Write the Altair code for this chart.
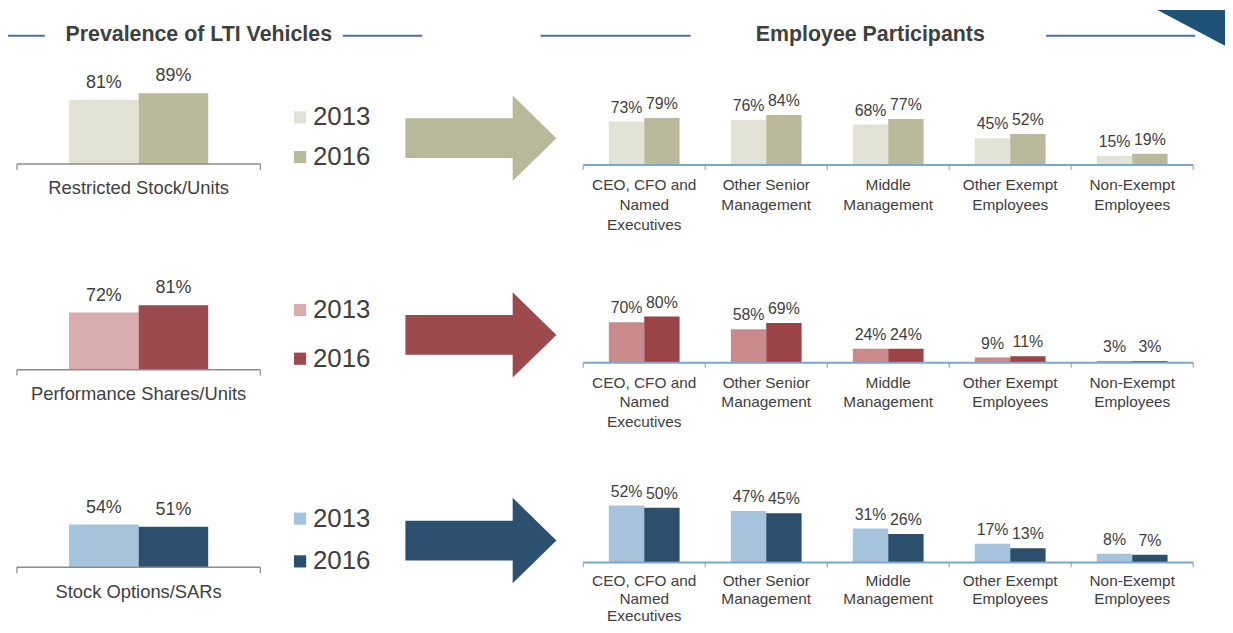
import altair as alt
import pandas as pd

# ---------------- data ----------------
vehicles = ["Restricted Stock/Units", "Performance Shares/Units", "Stock Options/SARs"]
years = ["2013", "2016"]
groups = ["CEO, CFO and\nNamed\nExecutives", "Other Senior\nManagement", "Middle\nManagement",
          "Other Exempt\nEmployees", "Non-Exempt\nEmployees"]
prevalence_2013 = [81, 72, 54]
prevalence_2016 = [89, 81, 51]
rsu_2013 = [73, 76, 68, 45, 15]
rsu_2016 = [79, 84, 77, 52, 19]
psu_2013 = [70, 58, 24, 9, 3]
psu_2016 = [80, 69, 24, 11, 3]
opt_2013 = [52, 47, 31, 17, 8]
opt_2016 = [50, 45, 26, 13, 7]
section_titles = ["Prevalence of LTI Vehicles", "Employee Participants"]

part_2013 = [rsu_2013, psu_2013, opt_2013]
part_2016 = [rsu_2016, psu_2016, opt_2016]

# ---------------- style / layout ----------------
FONT = "Liberation Sans"
TXT = "#404040"
W, H = 1225, 617
LEFT_RANGE = [9, 254]
RIGHT_RANGE = [579, 1193]
ARROW = "M -1 -0.263 L 0.421 -0.263 L 0.421 -0.566 L 1 0 L 0.421 0.566 L 0.421 0.263 L -1 0.263 Z"
TRIANGLE = "M -1 -0.53 L 1 -0.53 L 1 0.53 Z"

rows = [
    dict(lb=155, lab_y=179, rb=156, rh=60, legY=95, rp=14, ay=129, lh=20, ly0=13,
         lc=["#e2e2d5", "#bab99c"], rc=["#e2e2d5", "#bab99c"], arrow="#b8b89a"),
    dict(lb=362, lab_y=387, rb=355, rh=58, legY=289, rp=23, ay=327, lh=20, ly0=13,
         lc=["#d8acac", "#9b4a4d"], rc=["#c98a8b", "#9b4448"], arrow="#9c4a4e"),
    dict(lb=561, lab_y=586, rb=556, rh=110, legY=499, rp=17, ay=534, lh=18, ly0=11.5,
         lc=["#a6c4dd", "#2c4f6d"], rc=["#a6c4dd", "#2c4f6d"], arrow="#2d5070"),
]

layers = []

for i, r in enumerate(rows):
    # ---- left: prevalence ----
    vals = [prevalence_2013[i], prevalence_2016[i]]
    ldf = pd.DataFrame({"year": years, "value": vals, "label": [f"{v}%" for v in vals]})
    lx = alt.X("year:N", scale=alt.Scale(type="band", domain=years, range=LEFT_RANGE,
                                         paddingInner=0, paddingOuter=0.75), axis=None)
    ly = alt.Y("value:Q", scale=alt.Scale(domain=[0, 100], range=[r["lb"], r["lb"] - 80]), axis=None)
    layers.append(
        alt.Chart(ldf).mark_bar().encode(
            x=lx, y=ly,
            color=alt.Color("year:N", scale=alt.Scale(domain=years, range=r["lc"]),
                            legend=alt.Legend(orient="none", legendX=281, legendY=r["legY"],
                                              title=None, symbolType="square", symbolSize=150,
                                              symbolStrokeWidth=0, symbolOpacity=1,
                                              labelFontSize=26, labelFont=FONT, labelColor=TXT,
                                              labelOffset=0, rowPadding=r["rp"], padding=0)),
        )
    )
    layers.append(
        alt.Chart(ldf).mark_text(font=FONT, fontSize=18, color=TXT, dy=-12, baseline="alphabetic").encode(
            x=lx, y=ly, text="label:N")
    )
    # left axis line + end ticks
    layers.append(
        alt.Chart(pd.DataFrame({"k": [0]})).mark_rule(color="#8c8c8c", strokeWidth=1.5).encode(
            x=alt.value(LEFT_RANGE[0]), x2=alt.value(LEFT_RANGE[1]), y=alt.value(r["lb"]))
    )
    layers.append(
        alt.Chart(pd.DataFrame({"k": [0, 1]})).mark_rule(color="#8c8c8c", strokeWidth=1.2).encode(
            x=alt.X("k:Q", scale=alt.Scale(domain=[0, 1], range=LEFT_RANGE), axis=None),
            y=alt.value(r["lb"]), y2=alt.value(r["lb"] + 6))
    )
    layers.append(
        alt.Chart(pd.DataFrame({"t": [vehicles[i]]})).mark_text(
            font=FONT, fontSize=18.5, color=TXT, baseline="middle").encode(
            text="t:N", x=alt.value(sum(LEFT_RANGE) / 2), y=alt.value(r["lab_y"]))
    )

    # ---- arrow ----
    layers.append(
        alt.Chart(pd.DataFrame({"k": [0]})).mark_point(
            shape=ARROW, size=23104, filled=True, opacity=1, color=r["arrow"], strokeWidth=0).encode(
            x=alt.value(476), y=alt.value(r["ay"]))
    )

    # ---- right: employee participants ----
    recs = []
    for g, a, b in zip(groups, part_2013[i], part_2016[i]):
        recs.append({"group": g, "year": "2013", "value": a, "label": f"{a}%"})
        recs.append({"group": g, "year": "2016", "value": b, "label": f"{b}%"})
    rdf = pd.DataFrame(recs)
    rx = alt.X("group:N", scale=alt.Scale(type="band", domain=groups, range=RIGHT_RANGE,
                                          paddingInner=0.42, paddingOuter=0.21), axis=None)
    rxo = alt.XOffset("year:N", scale=alt.Scale(type="band", domain=years, paddingInner=0, paddingOuter=0))
    ry = alt.Y("value:Q", scale=alt.Scale(domain=[0, 100], range=[r["rb"], r["rb"] - r["rh"]]), axis=None)
    layers.append(
        alt.Chart(rdf).mark_bar().encode(
            x=rx, xOffset=rxo, y=ry,
            color=alt.Color("year:N", scale=alt.Scale(domain=years, range=r["rc"]), legend=None))
    )
    layers.append(
        alt.Chart(rdf).mark_text(font=FONT, fontSize=16, color=TXT, dy=-9, baseline="alphabetic").encode(
            x=rx, xOffset=rxo, y=ry, text="label:N")
    )
    layers.append(
        alt.Chart(pd.DataFrame({"k": [0]})).mark_rule(color="#7aa6cf", strokeWidth=2).encode(
            x=alt.value(RIGHT_RANGE[0]), x2=alt.value(RIGHT_RANGE[1]), y=alt.value(r["rb"]))
    )
    layers.append(
        alt.Chart(pd.DataFrame({"k": list(range(len(groups) + 1))})).mark_rule(
            color="#8a9bb0", strokeWidth=1).encode(
            x=alt.X("k:Q", scale=alt.Scale(domain=[0, len(groups)], range=RIGHT_RANGE), axis=None),
            y=alt.value(r["rb"]), y2=alt.value(r["rb"] + 5))
    )
    gdf = pd.DataFrame({"group": groups})
    layers.append(
        alt.Chart(gdf).mark_text(font=FONT, fontSize=15.5, color=TXT, baseline="top",
                                 lineBreak="\n", lineHeight=r["lh"], align="center").encode(
            x=rx, y=alt.value(r["rb"] + r["ly0"]), text="group:N")
    )

# ---- section titles with side rules ----
for t, cx, segs in [(section_titles[0], 192, [(0, 37), (337, 417)]),
                    (section_titles[1], 868, [(536, 687), (1045, 1195)])]:
    layers.append(
        alt.Chart(pd.DataFrame({"t": [t]})).mark_text(
            font=FONT, fontSize=21.5, fontWeight="bold", color=TXT, baseline="middle").encode(
            text="t:N", x=alt.value(cx), y=alt.value(25))
    )
    for x0, x1 in segs:
        layers.append(
            alt.Chart(pd.DataFrame({"k": [0]})).mark_rule(color="#4e6f9e", strokeWidth=2).encode(
                x=alt.value(x0), x2=alt.value(x1), y=alt.value(26))
        )

# ---- corner triangle ----
layers.append(
    alt.Chart(pd.DataFrame({"k": [0]})).mark_point(
        shape=TRIANGLE, size=4624, filled=True, opacity=1, color="#1e5276", strokeWidth=0).encode(
        x=alt.value(1191), y=alt.value(18))
)

chart = (
    alt.layer(*layers)
    .resolve_scale(x="independent", y="independent", color="independent", xOffset="independent")
    .properties(width=W, height=H, padding=0, autosize=alt.AutoSizeParams(type="none"),
                background="white")
    .configure_view(stroke=None)
)

chart.save("out.html", embed_options={"renderer": "svg", "actions": False})
